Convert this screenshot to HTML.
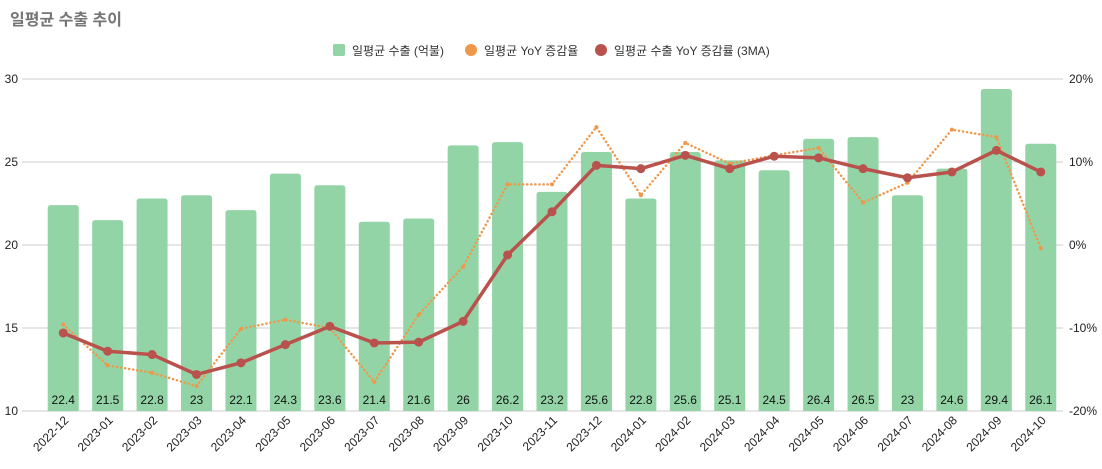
<!DOCTYPE html>
<html><head><meta charset="utf-8"><style>
body{margin:0;background:#fff;}
svg text{font-family:"Liberation Sans","Noto Sans CJK KR",sans-serif;}
</style></head><body>
<svg id="chart" width="1102" height="464" xmlns="http://www.w3.org/2000/svg">
<text x="10" y="25" font-size="16" font-weight="bold" fill="#757575">일평균 수출 추이</text>
<g font-size="12" fill="#333">
<g><rect x="333" y="44" width="12" height="12" rx="2" fill="#93d4a6"/><text x="352" y="55">일평균 수출 (억불)</text></g>
<g><circle cx="471" cy="50" r="6" fill="#f0984a"/><text x="484" y="55">일평균 YoY 증감율</text></g>
<g><circle cx="601" cy="50" r="6" fill="#b9524d"/><text x="614" y="55">일평균 수출 YoY 증감률 (3MA)</text></g>
</g>
<g id="grid"></g><g id="bars"></g><g id="lines"></g><g id="axes"></g>
</svg>
<script>
const categories=["2022-12","2023-01","2023-02","2023-03","2023-04","2023-05","2023-06","2023-07","2023-08","2023-09","2023-10","2023-11","2023-12","2024-01","2024-02","2024-03","2024-04","2024-05","2024-06","2024-07","2024-08","2024-09","2024-10"];
const exportValues=[22.4,21.5,22.8,23,22.1,24.3,23.6,21.4,21.6,26,26.2,23.2,25.6,22.8,25.6,25.1,24.5,26.4,26.5,23,24.6,29.4,26.1];
const yoyValues=[-9.6,-14.5,-15.4,-17.0,-10.1,-9.0,-10.0,-16.5,-8.4,-2.6,7.3,7.3,14.2,6.0,12.3,9.8,10.8,11.7,5.1,7.5,13.9,13.0,-0.4];
const ma3Values=[-10.6,-12.8,-13.2,-15.6,-14.2,-12.0,-9.8,-11.8,-11.7,-9.2,-1.2,4.0,9.6,9.2,10.8,9.2,10.7,10.5,9.2,8.1,8.8,11.4,8.8];
const leftTicks=[10,15,20,25,30];
const rightTicks=["-20%","-10%","0%","10%","20%"];
const rightTickValues=[-20,-10,0,10,20];
const NS="http://www.w3.org/2000/svg";
const X0=41,X1=1063,YT=79,YB=411;
const step=(X1-X0)/categories.length;
const xs=i=>X0+step*(i+0.5);
const yL=v=>YB-(v-10)/20*(YB-YT);
const yR=v=>YB-(v+20)/40*(YB-YT);
function mk(tag,attrs,parent,txt){const e=document.createElementNS(NS,tag);for(const k in attrs)e.setAttribute(k,attrs[k]);if(txt!==undefined)e.textContent=txt;document.getElementById(parent).appendChild(e);return e;}
leftTicks.forEach((t,i)=>{
 const g=mk("line",{x1:22,x2:X1,y1:yL(t),y2:yL(t),stroke:"#cccccc","stroke-width":1},"grid");
 
 
 const l=mk("text",{x:18,y:yL(t)+4,"text-anchor":"end","font-size":12,fill:"#222"},"axes",String(t));
 
 
});
rightTickValues.forEach((t,i)=>{
 const l=mk("text",{x:1069,y:yR(t)+4,"font-size":12,fill:"#222"},"axes",rightTicks[i]);
 
 
});
const bw=31;
exportValues.forEach((v,i)=>{
 const x=xs(i)-bw/2,y=yL(v),h=YB-y,r=3;
 const p=mk("path",{d:`M${x},${YB}V${y+r}Q${x},${y} ${x+r},${y}H${x+bw-r}Q${x+bw},${y} ${x+bw},${y+r}V${YB}Z`,fill:"#93d4a6"},"bars");
 
 
 const t=mk("text",{x:xs(i),y:404,"text-anchor":"middle","font-size":12,fill:"#111"},"bars",String(v));
 
 
 const xl=mk("text",{x:xs(i)+6,y:421,"text-anchor":"end","font-size":12,fill:"#222",transform:`rotate(-45 ${xs(i)+6} 421)`},"axes",categories[i]);
 
 
});
const yoyPts=yoyValues.map((v,i)=>xs(i)+","+yR(v)).join(" ");
const yl=mk("polyline",{points:yoyPts,fill:"none",stroke:"#f0984a","stroke-width":2.5,"stroke-dasharray":"0.1 4","stroke-linecap":"round"},"lines");


yoyValues.forEach((v,i)=>{const c=mk("circle",{cx:xs(i),cy:yR(v),r:2,fill:"#f0984a"},"lines");
 
 });
const maPts=ma3Values.map((v,i)=>xs(i)+","+yR(v)).join(" ");
const ml=mk("polyline",{points:maPts,fill:"none",stroke:"#b9524d","stroke-width":3.5,"stroke-linejoin":"round"},"lines");


ma3Values.forEach((v,i)=>{const c=mk("circle",{cx:xs(i),cy:yR(v),r:4.5,fill:"#b9524d"},"lines");
 
 });
</script>
</body></html>
